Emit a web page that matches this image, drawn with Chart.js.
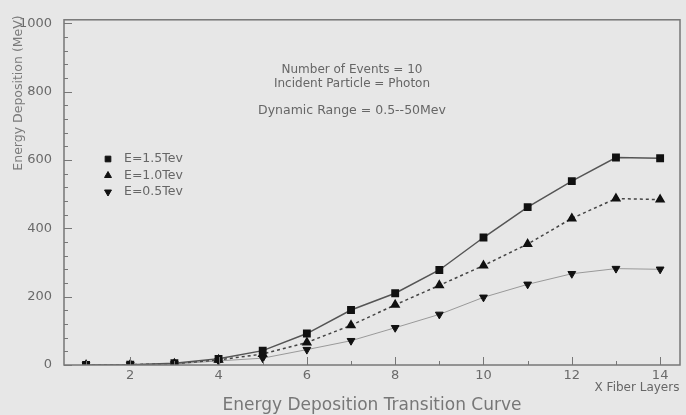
<!DOCTYPE html>
<html>
<head>
<meta charset="utf-8">
<script src="https://cdn.jsdelivr.net/npm/chart.js@4.4.0/dist/chart.umd.min.js"></script>
<style>
  html, body { margin: 0; padding: 0; background: #e7e7e7; }
  #wrap { width: 686px; height: 415px; position: relative; }
</style>
</head>
<body>
<div id="wrap"><canvas id="chart" width="686" height="415"></canvas></div>
<script>
// fiber layer index
const layers = [1, 2, 3, 4, 5, 6, 7, 8, 9, 10, 11, 12, 13, 14];
// energy deposition (MeV)
const e15 = [0, 1, 5, 18, 42, 92, 161, 210, 278, 373, 462, 538, 607, 605];
const e10 = [0, 1, 4, 15, 32, 66, 116, 176, 233, 291, 354, 429, 487, 484];
const e05 = [0, 1, 3, 12, 20, 45, 71, 109, 148, 198, 236, 267, 282, 280];
const xTicks = [2, 4, 6, 8, 10, 12, 14];
const yTicks = [0, 200, 400, 600, 800, 1000];
const legendLabels = ["E=1.5Tev", "E=1.0Tev", "E=0.5Tev"];
const infoLines = ["Number of Events = 10", "Incident Particle = Photon", "Dynamic Range = 0.5--50Mev"];

const FONT = "'DejaVu Sans', sans-serif";
const GREY = "#6a6a6a";

function toPoints(vals) {
    return layers.map((x, i) => ({ x: x, y: vals[i] }));
}

// box, inward ticks, titles, text block and legend
const decorPlugin = {
    id: "decor",
    afterDraw(chart) {
        const ctx = chart.ctx;
        const a = chart.chartArea;
        const xs = chart.scales.x;
        const ys = chart.scales.y;
        ctx.save();

        ctx.strokeStyle = "#777";
        ctx.lineWidth = 1.5;
        ctx.strokeRect(a.left, a.top, a.right - a.left, a.bottom - a.top);

        // y ticks every 40, major every 200
        ctx.lineWidth = 1;
        for (let v = 0; v <= 1000; v += 40) {
            const py = Math.round(ys.getPixelForValue(v)) + 0.5;
            const len = v % 200 === 0 ? 8 : 4;
            ctx.beginPath();
            ctx.moveTo(a.left, py);
            ctx.lineTo(a.left + len, py);
            ctx.stroke();
        }
        // x ticks every 1, major every 2
        for (let v = 1; v <= 14; v++) {
            const px = Math.round(xs.getPixelForValue(v)) + 0.5;
            const len = v % 2 === 0 ? 8 : 4;
            ctx.beginPath();
            ctx.moveTo(px, a.bottom);
            ctx.lineTo(px, a.bottom - len);
            ctx.stroke();
        }

        // info text
        ctx.fillStyle = "#666";
        ctx.textAlign = "center";
        ctx.textBaseline = "middle";
        const cx = 352;
        ctx.font = "12px " + FONT;
        ctx.fillText(infoLines[0], cx, 70);
        ctx.fillText(infoLines[1], cx, 84);
        ctx.font = "12.5px " + FONT;
        ctx.fillText(infoLines[2], cx, 111);

        // legend
        const markers = ["rect", "triangle", "triangle"];
        const rots = [0, 0, 180];
        ctx.textAlign = "left";
        ctx.font = "12.5px " + FONT;
        legendLabels.forEach((t, i) => {
            const y = 159 + i * 16.5;
            ctx.fillStyle = "#111";
            ctx.strokeStyle = "#111";
            Chart.helpers.drawPoint(ctx, { pointStyle: markers[i], radius: 4, rotation: rots[i], borderWidth: 1 }, 108, y);
            ctx.fillStyle = "#666";
            ctx.fillText(t, 124, y);
        });

        // axis titles
        ctx.fillStyle = "#7a7a7a";
        ctx.font = "12.5px " + FONT;
        ctx.save();
        ctx.translate(19, 93);
        ctx.rotate(-Math.PI / 2);
        ctx.textAlign = "center";
        ctx.fillText("Energy Deposition (MeV)", 0, 0);
        ctx.restore();

        ctx.fillStyle = "#666";
        ctx.textAlign = "center";
        ctx.font = "12px " + FONT;
        ctx.fillText("X Fiber Layers", 637, 388);

        ctx.font = "17px " + FONT;
        ctx.fillStyle = "#777";
        ctx.fillText("Energy Deposition Transition Curve", 372, 406);

        ctx.restore();
    }
};

new Chart(document.getElementById("chart"), {
    type: "line",
    data: {
        datasets: [
            {
                label: legendLabels[0],
                data: toPoints(e15),
                borderColor: "#555",
                borderWidth: 1.5,
                pointStyle: "rect",
                pointRadius: 4.5,
                pointBackgroundColor: "#111",
                pointBorderColor: "#111",
                tension: 0,
            },
            {
                label: legendLabels[1],
                data: toPoints(e10),
                borderColor: "#444",
                borderWidth: 1.5,
                borderDash: [3, 3],
                pointStyle: "triangle",
                pointRadius: 4.5,
                pointBackgroundColor: "#111",
                pointBorderColor: "#111",
                tension: 0,
            },
            {
                label: legendLabels[2],
                data: toPoints(e05),
                borderColor: "#999",
                borderWidth: 1,
                pointStyle: "triangle",
                pointRotation: 180,
                pointRadius: 4.5,
                pointBackgroundColor: "#111",
                pointBorderColor: "#111",
                tension: 0,
            },
        ],
    },
    options: {
        responsive: false,
        animation: false,
        layout: { padding: { top: 16, right: 4, left: 0, bottom: 0 } },
        plugins: {
            legend: { display: false },
            tooltip: { enabled: false },
        },
        scales: {
            x: {
                type: "linear",
                min: 0.5,
                max: 14.45,
                grid: { display: false, drawTicks: false },
                border: { display: false },
                afterBuildTicks: (s) => { s.ticks = xTicks.map(v => ({ value: v })); },
                afterFit: (s) => { s.height = 50; },
                ticks: {
                    color: GREY,
                    font: { family: FONT, size: 13 },
                    padding: 3,
                    maxRotation: 0,
                    callback: (v) => String(v),
                },
            },
            y: {
                min: 0,
                max: 1010,
                grid: { display: false, drawTicks: false },
                border: { display: false },
                afterBuildTicks: (s) => { s.ticks = yTicks.map(v => ({ value: v })); },
                afterFit: (s) => { s.width = 64; },
                ticks: {
                    color: GREY,
                    font: { family: FONT, size: 13 },
                    padding: 12,
                    callback: (v) => String(v),
                },
            },
        },
    },
    plugins: [decorPlugin],
});
</script>
</body>
</html>
